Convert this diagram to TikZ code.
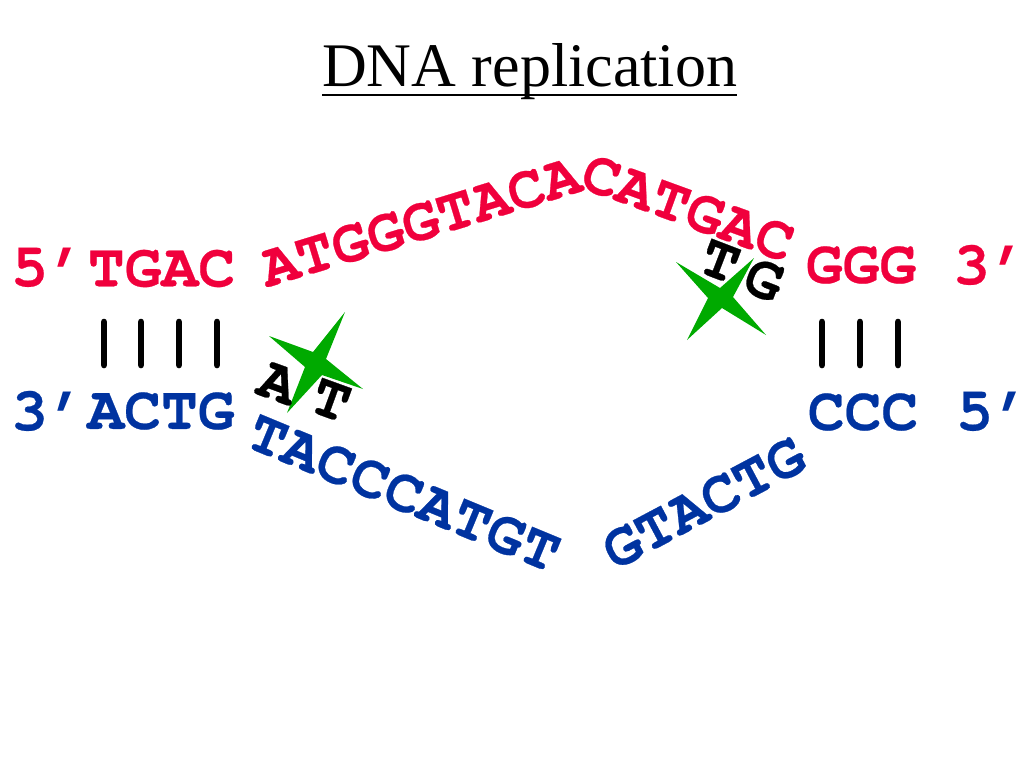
\documentclass[tikz,border=0pt]{standalone}
\usepackage{fontspec}
\setmainfont{Liberation Serif}
\setmonofont[BoldFeatures={FakeBold=0.4}]{TeX Gyre Cursor}
\newfontfamily\primefont[FakeSlant=0.35]{Liberation Mono}
\newcommand{\primemark}{\makebox[27.6pt][l]{\hspace{-11pt}\raisebox{-4.5pt}{\primefont\bfseries ′}}}
\definecolor{dnared}{RGB}{240,0,60}
\definecolor{dnablue}{RGB}{0,51,160}
\definecolor{dnagreen}{RGB}{0,170,0}
\tikzset{
  x=0.75pt,y=-0.75pt,
  base/.style={inner sep=0pt,outer sep=0pt,font=\fontsize{46}{46}\selectfont\ttfamily\bfseries},
  redtxt/.style={base,text=dnared},
  bluetxt/.style={base,text=dnablue},
  blacktxt/.style={base,text=black},
  pair/.style={line width=5pt,black,line cap=round},
  star/.style={fill=dnagreen,draw=none}
}
\begin{document}
\begin{tikzpicture}
\useasboundingbox (0,0) rectangle (1024,768);
\node[font=\fontsize{46.5}{46.5}\selectfont,inner sep=0pt] (title) at (529.5,72) {DNA replication};
\coordinate (ula) at (322,95); \coordinate (ulb) at (737,95);
\draw[line width=2.2pt] (ula) -- (ulb);
% stars
\fill[star] (345,312) -- (326,359) -- (363,389) -- (322,375) -- (287,413) -- (305,367) -- (269,336) -- (313,352) -- cycle;
\fill[star] (676,262) -- (720,288) -- (754,258) -- (733,297) -- (766,335) -- (722,308) -- (687,340) -- (708,298) -- cycle;
\node[redtxt,anchor=base] (r1) at (48,286) {5\primemark};
\node[redtxt] (r2) at (161.5,268.5) {TGAC};
\node[redtxt,rotate=17] (r3) at (420.5,222) {ATGGGTACA};
\node[redtxt,rotate=-20] (r4) at (688,208) {CATGAC};
\node[redtxt] (r5) at (861,265) {GGG};
\node[redtxt,anchor=base] (r6) at (990,284) {3\primemark};
\node[bluetxt,anchor=base] (b1) at (48,430) {3\primemark};
\node[bluetxt] (b2) at (161,411) {ACTG};
\node[bluetxt] (b3) at (863,412) {CCC};
\node[bluetxt,anchor=base] (b4) at (993,430) {5\primemark};
\node[bluetxt,rotate=-22.5] (b5) at (404,493) {TACCCATGT};
\node[bluetxt,rotate=28] (b6) at (704,503) {GTACTG};
\node[blacktxt,rotate=-20] (a) at (278,383) {A};
\node[blacktxt,rotate=-20] (t) at (331,400) {T};
\node[blacktxt,rotate=-21] (t2) at (720,261) {T};
\node[blacktxt,rotate=-21] (g2) at (764,280) {G};
\foreach \x in {104,141,179,217}{
  \coordinate (p\x a) at (\x,322); \coordinate (p\x b) at (\x,365);
  \draw[pair] (p\x a) -- (p\x b);
}
\foreach \x in {822,860,898}{
  \coordinate (q\x a) at (\x,322); \coordinate (q\x b) at (\x,365);
  \draw[pair] (q\x a) -- (q\x b);
}
\end{tikzpicture}
\end{document}
